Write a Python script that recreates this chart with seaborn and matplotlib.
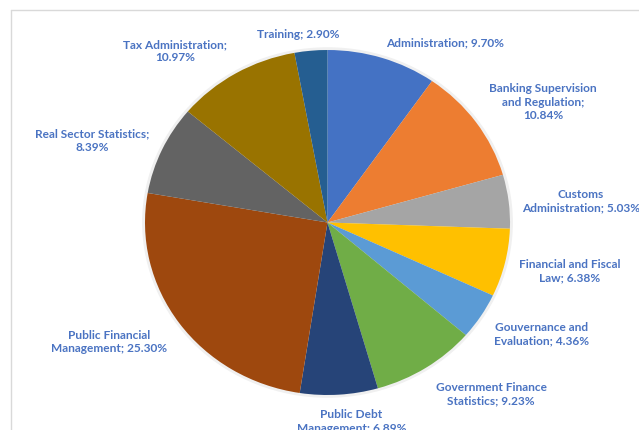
import numpy as np
import matplotlib
matplotlib.use("Agg")
import matplotlib.pyplot as plt
from matplotlib.patches import Circle
from matplotlib.lines import Line2D
import seaborn as sns

sns.set_theme(style="white")
plt.rcParams['font.family'] = ['Lato', 'DejaVu Sans']

categories = ["Administration", "Banking Supervision\nand Regulation",
              "Customs\nAdministration", "Financial and Fiscal\nLaw",
              "Gouvernance and\nEvaluation", "Government Finance\nStatistics",
              "Public Debt\nManagement", "Public Financial\nManagement",
              "Real Sector Statistics;\n", "Tax Administration;\n", "Training"]
shares = [9.70, 10.84, 5.03, 6.38, 4.36, 9.23, 6.89, 25.30, 8.39, 10.97, 2.90]
label_fmt = ["{}; {:.2f}%", "{};\n{:.2f}%", "{}; {:.2f}%", "{}; {:.2f}%",
             "{}; {:.2f}%", "{}; {:.2f}%", "{}; {:.2f}%", "{}; {:.2f}%",
             "{}{:.2f}%", "{}{:.2f}%", "{}; {:.2f}%"]
colors = ["#4472C4", "#ED7D31", "#A5A5A5", "#FFC000", "#5B9BD5", "#70AD47",
          "#264478", "#9E480E", "#636363", "#997300", "#255E91"]

# label placement: radius (pie = 1) and angle nudge from wedge middle (degrees)
label_r = [1.224, 1.372, 1.395, 1.358, 1.337, 1.338, 1.161, 1.383, 1.374, 1.299, 1.099]
label_nudge = [-14.2, -5.0, -1.8, 1.6, 4.0, 9.4, 2.9, -5.6, 4.8, 9.9, 3.2]

fig = plt.figure(figsize=(6.39, 4.30), dpi=100)
ax = fig.add_axes([0, 0, 1, 1])

palette = sns.color_palette(colors)
wedges, _ = ax.pie(shares, colors=palette, startangle=90, counterclock=False,
                   radius=1, wedgeprops=dict(edgecolor='none', linewidth=0))
# soft shadow round the pie
ax.add_patch(Circle((0, 0), 1.012, color='#f0f0f0', zorder=0))

for w, cat, v, fmt, r, dn in zip(wedges, categories, shares, label_fmt, label_r, label_nudge):
    mid = np.deg2rad((w.theta1 + w.theta2) / 2 + dn)
    ax.text(r * np.cos(mid), r * np.sin(mid), fmt.format(cat, v),
            ha='center', va='center', fontsize=8.6, fontweight='bold',
            color='#4A73C2', linespacing=1.25)

ax.set_aspect('auto')
ax.set_xlim(-1.7945, 1.7068)
ax.set_ylim(-1.2029, 1.2899)
ax.axis('off')

# chart frame (only left and top edges visible in the crop)
fig.add_artist(Line2D([10.5 / 639, 10.5 / 639], [0, 1 - 9.5 / 430],
                      transform=fig.transFigure, color='#d9d9d9', lw=1))
fig.add_artist(Line2D([10.5 / 639, 1], [1 - 9.5 / 430, 1 - 9.5 / 430],
                      transform=fig.transFigure, color='#d9d9d9', lw=1))

fig.savefig("out.png", dpi=100, facecolor='white')
